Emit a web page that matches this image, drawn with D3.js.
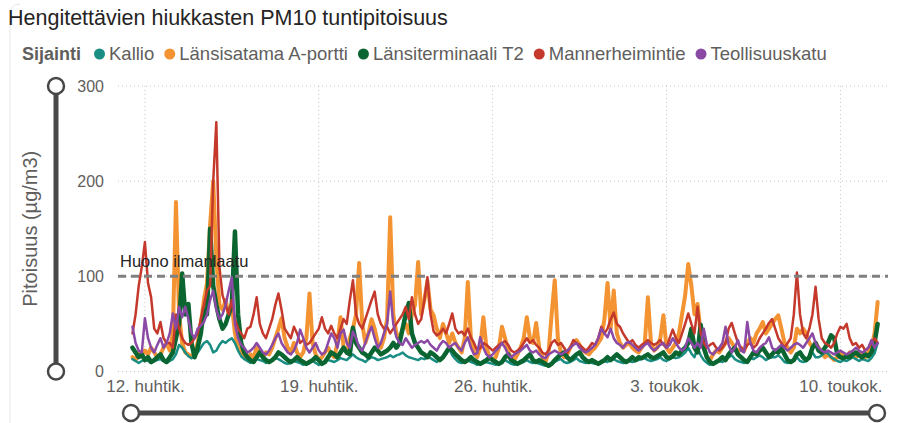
<!DOCTYPE html>
<html>
<head>
<meta charset="utf-8">
<script src="https://cdn.jsdelivr.net/npm/d3@7"></script>
<style>
body { margin: 0; background: #fff; }
svg { display: block; font-family: "Liberation Sans", Arial, sans-serif; }
</style>
</head>
<body>
<div class="chart"></div>
<script>
// hourly PM10 readings, sampled every 3 hours from 11.4. klo 12
const startTime = new Date(2023, 3, 11, 12);
const stepHours = 3;

const kallio = [
  13, 11, 9, 11, 13, 11, 9, 11, 12, 13, 11, 9, 11, 13,
  18, 28, 25, 20, 16, 14, 16, 20, 25, 30, 32, 28, 20, 22, 28, 32, 30, 33, 35, 30, 22, 16,
  13, 11, 9, 11, 13, 12, 11, 9, 11, 12, 14, 13, 11, 9, 8, 9, 11, 10, 9, 7, 8, 9, 11, 9,
  7, 9, 10, 12, 11, 10, 12, 14, 13, 12, 15, 18, 15, 13, 12, 10, 13, 15, 14, 12, 13, 14, 15, 17,
  15, 17, 18, 20, 17, 15, 14, 13, 12, 14, 13, 15, 14, 12, 10, 13, 15, 18, 24, 17, 13, 10, 9, 10,
  12, 10, 9, 7, 8, 9, 10, 9, 8, 7, 8, 10, 12, 10, 8, 7, 8, 9, 10, 12, 10, 9, 10, 8,
  7, 6, 7, 9, 10, 12, 13, 10, 9, 10, 12, 14, 11, 10, 9, 10, 9, 8, 9, 10, 11, 10, 12, 13,
  11, 10, 9, 10, 11, 10, 11, 12, 13, 14, 12, 11, 12, 13, 15, 12, 11, 13, 15, 14, 15, 17, 20, 25,
  19, 15, 25, 17, 12, 9, 7, 8, 10, 11, 10, 12, 15, 17, 13, 11, 10, 9, 11, 14, 13, 15, 17, 15,
  12, 14, 15, 15, 17, 14, 10, 9, 10, 13, 15, 11, 10, 11, 17, 20, 15, 15, 17, 20, 19, 15, 13, 11,
  10, 12, 11, 13, 15, 13, 11, 13, 12, 11, 14, 19, 30
];

const lansisatama = [
  15, 12, 20, 18, 22, 18, 25, 20, 15, 18,
  25, 30, 22, 40, 178, 60, 30, 20, 18, 15,
  20, 30, 50, 75, 93, 154, 200, 120, 70, 65,
  75, 60, 70, 40, 25, 20, 15, 12, 18, 15,
  25, 20, 15, 20, 18, 25, 35, 45, 56, 35,
  25, 20, 30, 20, 15, 20, 35, 82, 30, 18,
  12, 15, 20, 25, 18, 15, 30, 57, 25, 20,
  35, 45, 60, 114, 50, 30, 40, 55, 45, 30,
  25, 35, 55, 162, 60, 40, 35, 45, 50, 40,
  60, 70, 115, 60, 75, 95, 65, 59, 45, 35,
  50, 40, 30, 40, 30, 25, 20, 35, 94, 35,
  20, 15, 25, 57, 25, 15, 12, 15, 25, 47,
  35, 20, 15, 12, 18, 25, 35, 57, 35, 30,
  51, 25, 15, 10, 20, 60, 96, 35, 20, 15,
  18, 25, 30, 33, 28, 22, 20, 18, 22, 25,
  30, 35, 55, 93, 45, 85, 40, 30, 25, 28,
  30, 25, 22, 20, 25, 30, 78, 30, 22, 25,
  35, 59, 25, 20, 25, 30, 40, 60, 80, 113,
  90, 60, 71, 40, 25, 15, 12, 18, 22, 20,
  25, 30, 35, 30, 25, 20, 25, 22, 30, 35,
  30, 40, 45, 52, 40, 45, 50, 55, 59, 45,
  30, 25, 20, 25, 45, 40, 45, 40, 30, 25,
  30, 25, 20, 15, 18, 15, 12, 15, 20, 18,
  15, 20, 18, 15, 20, 18, 15, 20, 25, 40,
  73
];

const lansiterminaali = [
  25, 20, 15, 18, 12, 15, 10, 12, 15, 18,
  12, 10, 15, 20, 35, 50, 103, 60, 71, 30,
  15, 25, 40, 65, 60, 150, 90, 70, 55, 45,
  50, 60, 70, 147, 60, 30, 20, 15, 12, 10,
  15, 20, 15, 12, 10, 12, 15, 20, 18, 15,
  12, 10, 12, 15, 12, 10, 8, 10, 12, 15,
  12, 8, 10, 15, 20, 18, 15, 20, 25, 20,
  18, 46, 30, 25, 20, 18, 15, 20, 25, 22,
  18, 20, 22, 25, 30, 25, 30, 45, 60, 72,
  40, 30, 25, 20, 18, 15, 20, 18, 15, 12,
  15, 20, 25, 22, 18, 15, 12, 10, 12, 15,
  12, 10, 8, 10, 12, 15, 12, 10, 8, 10,
  15, 18, 12, 10, 8, 10, 12, 15, 18, 12,
  10, 12, 10, 8, 6, 8, 12, 15, 18, 20,
  15, 12, 15, 18, 20, 15, 12, 10, 12, 10,
  8, 10, 12, 15, 12, 15, 18, 15, 12, 10,
  12, 15, 12, 15, 14, 16, 18, 15, 14, 16,
  18, 20, 15, 14, 16, 20, 18, 22, 25, 30,
  45, 25, 20, 49, 25, 15, 10, 8, 10, 12,
  15, 12, 18, 22, 25, 18, 15, 12, 10, 15,
  20, 18, 22, 25, 20, 15, 18, 22, 20, 25,
  18, 12, 10, 12, 18, 20, 15, 12, 15, 25,
  30, 22, 20, 25, 30, 38, 35, 18, 15, 14,
  16, 15, 18, 20, 17, 15, 18, 16, 20, 30,
  50
];

const mannerheimintie = [
  40, 60, 90, 110, 136, 93, 78, 45, 40, 52,
  35, 30, 30, 25, 60, 45, 35, 30, 28, 30,
  35, 40, 55, 70, 85, 90, 200, 262, 110, 80,
  70, 60, 75, 55, 45, 40, 35, 45, 47, 60,
  78, 50, 40, 35, 45, 55, 70, 82, 65, 45,
  40, 35, 47, 40, 30, 33, 28, 30, 35, 40,
  45, 57, 45, 40, 48, 40, 35, 45, 55, 50,
  75, 96, 60, 50, 45, 55, 65, 75, 84, 60,
  50, 45, 47, 40, 45, 50, 55, 60, 68, 55,
  78, 60, 50, 55, 75, 99, 60, 42, 38, 40,
  45, 40, 50, 61, 45, 40, 42, 38, 45, 36,
  30, 22, 25, 30, 28, 25, 22, 25, 28, 30,
  32, 28, 22, 20, 22, 25, 30, 35, 30, 33,
  28, 25, 20, 18, 22, 30, 33, 28, 30, 25,
  20, 25, 33, 30, 28, 25, 22, 25, 30, 28,
  35, 47, 40, 45, 55, 62, 50, 47, 40, 35,
  30, 33, 28, 25, 28, 30, 33, 30, 28, 30,
  33, 28, 25, 35, 44, 35, 30, 40, 50, 61,
  50, 40, 68, 40, 30, 25, 28, 30, 25, 22,
  25, 30, 45, 51, 40, 30, 25, 22, 28, 30,
  25, 28, 35, 40, 45, 51, 55, 45, 35, 30,
  25, 30, 35, 60, 104, 60, 40, 35, 45, 60,
  89, 55, 35, 30, 28, 25, 30, 40, 47, 45,
  50, 35, 28, 30, 25, 28, 22, 25, 30, 35,
  30
];

const teollisuuskatu = [
  47, 30, 22, 20, 56, 35, 25, 20, 28, 35,
  25, 30, 40, 61, 45, 68, 57, 68, 55, 40,
  35, 45, 48, 52, 60, 75, 85, 65, 55, 60,
  70, 85, 99, 50, 35, 28, 25, 20, 22, 25,
  30, 25, 20, 18, 22, 28, 35, 40, 30, 25,
  20, 18, 22, 30, 44, 35, 25, 20, 25, 30,
  22, 18, 20, 30, 40, 35, 25, 40, 44, 30,
  25, 42, 35, 25, 22, 30, 40, 47, 35, 25,
  30, 40, 50, 84, 50, 36, 30, 28, 35, 30,
  25, 28, 30, 32, 30, 33, 28, 25, 22, 28,
  32, 30, 25, 28, 30, 25, 22, 30, 36, 25,
  18, 19, 36, 25, 18, 15, 18, 22, 25, 30,
  25, 18, 15, 18, 20, 22, 25, 28, 22, 20,
  22, 18, 15, 14, 18, 20, 22, 20, 18, 20,
  22, 25, 28, 30, 25, 22, 20, 22, 25, 28,
  35, 45, 40, 36, 45, 35, 30, 28, 25, 30,
  31, 28, 25, 22, 25, 28, 30, 25, 22, 25,
  28, 30, 25, 28, 35, 30, 25, 22, 25, 35,
  30, 25, 30, 25, 45, 28, 20, 18, 22, 25,
  30, 47, 28, 20, 25, 33, 22, 20, 52, 30,
  22, 20, 25, 28, 30, 36, 25, 22, 25, 28,
  25, 22, 25, 28, 30, 28, 25, 30, 35, 40,
  30, 25, 22, 20, 22, 20, 18, 20, 22, 20,
  18, 20, 22, 25, 22, 20, 22, 25, 33, 25,
  30
];

const legendNames = ["Kallio", "Länsisatama A-portti", "Länsiterminaali T2", "Mannerheimintie", "Teollisuuskatu"];
const legendColors = ["#1b8e84", "#f39331", "#0b6531", "#c4392b", "#8a49a4"];
// drawing order: back to front
const drawOrder = [1, 0, 2, 3, 4];
const lineWidths = [2.5, 4, 4.5, 2.5, 2.5];
const seriesValues = [kallio, lansisatama, lansiterminaali, mannerheimintie, teollisuuskatu];

const tickDates = [new Date(2023, 3, 12), new Date(2023, 3, 19), new Date(2023, 3, 26), new Date(2023, 4, 3), new Date(2023, 4, 10)];
const tickLabels = ["12. huhtik.", "19. huhtik.", "26. huhtik.", "3. toukok.", "10. toukok."];
const yTicks = [0, 100, 200, 300];
const threshold = 100;
const thresholdLabel = "Huono ilmanlaatu";

const W = 897, H = 423;
const svg = d3.select(".chart").append("svg")
  .attr("width", W).attr("height", H);

// faint visual border
svg.append("path")
  .attr("d", "M10,423 L10,14 Q10,4 20,4")
  .attr("fill", "none").attr("stroke", "#e6e6e6").attr("stroke-width", 1);

svg.append("text")
  .attr("x", 8).attr("y", 25)
  .attr("font-size", 21.5)
  .attr("fill", "#252423")
  .text("Hengitettävien hiukkasten PM10 tuntipitoisuus");

// legend
const legend = svg.append("g").attr("transform", "translate(22,60)");
const legTitle = legend.append("text")
  .attr("font-size", 18).attr("font-weight", "bold").attr("fill", "#605e5c")
  .text("Sijainti");
let cursor = legTitle.node().getComputedTextLength() + 13;
legendNames.forEach((name, i) => {
  legend.append("circle")
    .attr("cx", cursor + 5.5).attr("cy", -6).attr("r", 5.5)
    .attr("fill", legendColors[i]);
  const t = legend.append("text")
    .attr("x", cursor + 15)
    .attr("font-size", 18.5).attr("fill", "#605e5c")
    .text(name);
  cursor += 15 + t.node().getComputedTextLength() + 10;
});

const x = d3.scaleTime()
  .domain([new Date(2023, 3, 10, 22), new Date(2023, 4, 11, 22)])
  .range([118, 888]);
const y = d3.scaleLinear()
  .domain([0, 300])
  .range([371.5, 86]);

// gridlines
svg.append("g").selectAll("line")
  .data(yTicks)
  .enter().append("line")
  .attr("x1", 118).attr("x2", 888)
  .attr("y1", d => y(d)).attr("y2", d => y(d))
  .attr("stroke", "#c8c6c4").attr("stroke-width", 1)
  .attr("stroke-dasharray", "1,3");
svg.append("g").selectAll("line")
  .data(tickDates)
  .enter().append("line")
  .attr("x1", d => x(d)).attr("x2", d => x(d))
  .attr("y1", y(300)).attr("y2", y(0))
  .attr("stroke", "#c8c6c4").attr("stroke-width", 1)
  .attr("stroke-dasharray", "1,3");

// axes
const yAxis = d3.axisLeft(y).tickValues(yTicks).tickSize(0).tickPadding(0);
svg.append("g")
  .attr("class", "axis y-axis")
  .attr("transform", "translate(104,0)")
  .call(yAxis)
  .call(g => g.select(".domain").remove())
  .selectAll("text")
  .attr("font-size", 16).attr("fill", "#605e5c")
  .attr("font-family", "Liberation Sans, Arial, sans-serif");

const xAxis = d3.axisBottom(x).tickValues(tickDates)
  .tickFormat((d, i) => tickLabels[i]).tickSize(0).tickPadding(0);
svg.append("g")
  .attr("class", "axis x-axis")
  .attr("transform", "translate(0,380)")
  .call(xAxis)
  .call(g => g.select(".domain").remove())
  .selectAll("text")
  .attr("font-size", 17).attr("fill", "#605e5c")
  .attr("font-family", "Liberation Sans, Arial, sans-serif");

svg.append("text")
  .attr("transform", "translate(37," + y(150) + ") rotate(-90)")
  .attr("text-anchor", "middle")
  .attr("font-size", 20).attr("fill", "#605e5c")
  .text("Pitoisuus (µg/m3)");

// series lines
const line = d3.line()
  .x((d, i) => x(d3.timeHour.offset(startTime, i * stepHours)))
  .y(d => y(d));

svg.append("g").selectAll("path")
  .data(drawOrder)
  .enter().append("path")
  .attr("d", k => line(seriesValues[k]))
  .attr("fill", "none")
  .attr("stroke", k => legendColors[k])
  .attr("stroke-width", k => lineWidths[k])
  .attr("stroke-linejoin", "round")
  .attr("stroke-linecap", "round");

// threshold
svg.append("line")
  .attr("x1", 118).attr("x2", 888)
  .attr("y1", y(threshold)).attr("y2", y(threshold))
  .attr("stroke", "#808080").attr("stroke-width", 3)
  .attr("stroke-dasharray", "8,5");
svg.append("text")
  .attr("x", 120).attr("y", y(threshold) - 9)
  .attr("font-size", 16.5).attr("fill", "#252423")
  .text(thresholdLabel);

// zoom sliders
const slider = svg.append("g");
slider.append("line")
  .attr("x1", 56).attr("x2", 56).attr("y1", y(300)).attr("y2", y(0))
  .attr("stroke", "#484848").attr("stroke-width", 5);
slider.selectAll("circle.v")
  .data([y(300), y(0)])
  .enter().append("circle")
  .attr("cx", 56).attr("cy", d => d).attr("r", 8)
  .attr("fill", "#fff").attr("stroke", "#484848").attr("stroke-width", 2.5);
slider.append("line")
  .attr("x1", 131).attr("x2", 877).attr("y1", 413).attr("y2", 413)
  .attr("stroke", "#484848").attr("stroke-width", 5);
slider.selectAll("circle.h")
  .data([131, 877])
  .enter().append("circle")
  .attr("cx", d => d).attr("cy", 413).attr("r", 8)
  .attr("fill", "#fff").attr("stroke", "#484848").attr("stroke-width", 2.5);
</script>
</body>
</html>
